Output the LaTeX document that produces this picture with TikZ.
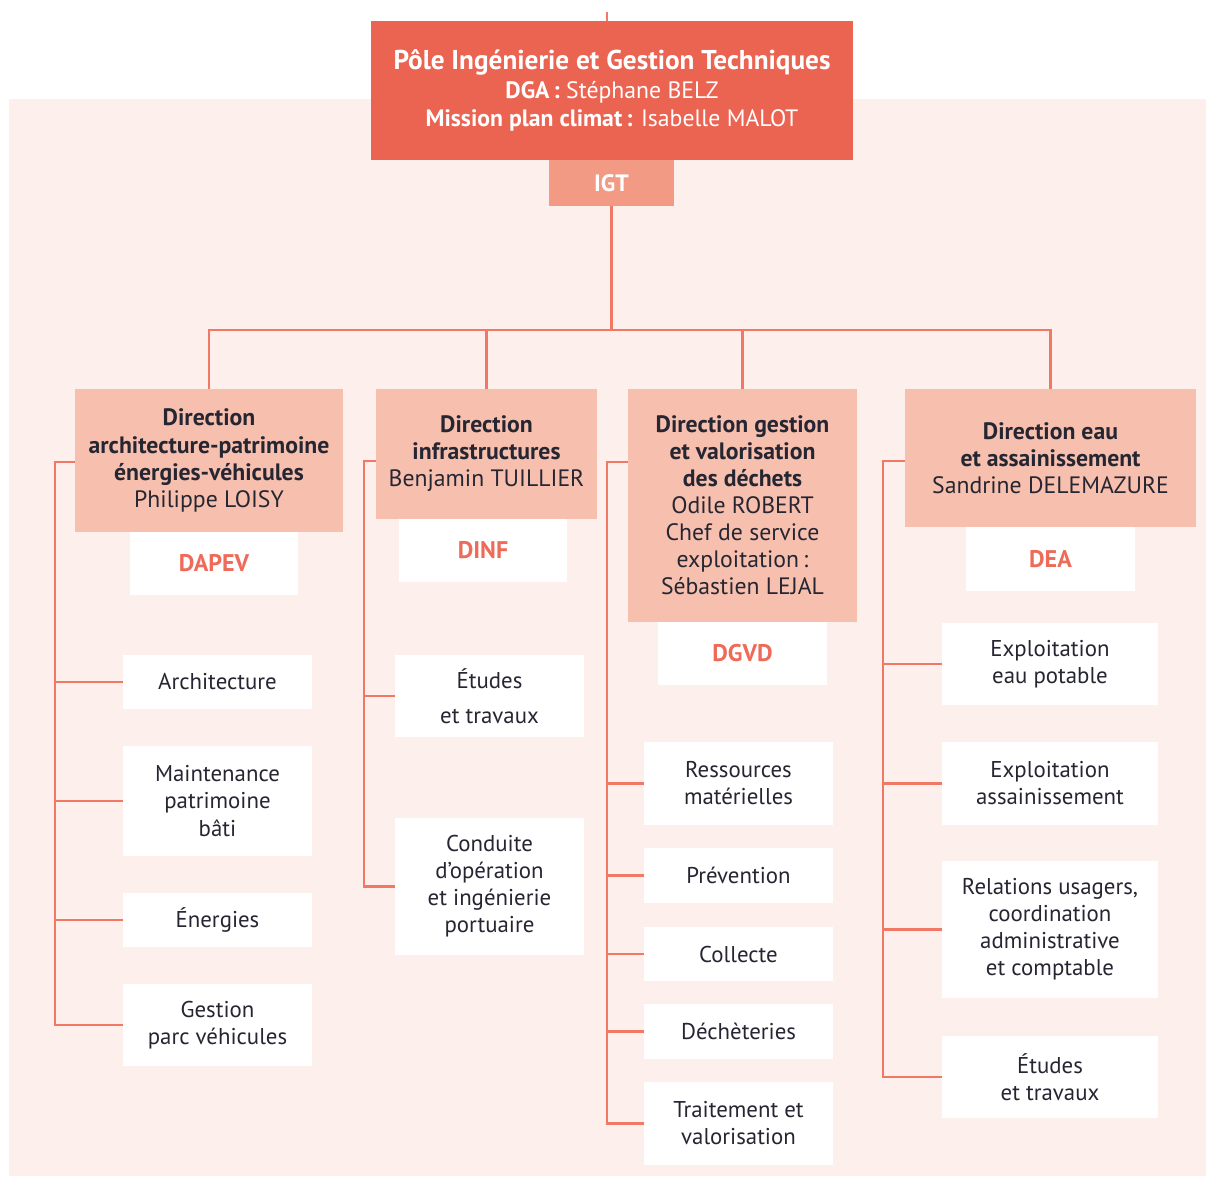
\documentclass[tikz,border=0pt]{standalone}
\usepackage{fontspec}
\setmainfont{PT Sans}
\usetikzlibrary{positioning}
\definecolor{coral}{HTML}{EB6452}
\definecolor{igtpink}{HTML}{F29A84}
\definecolor{dirpink}{HTML}{F7BFAE}
\definecolor{panel}{HTML}{FDF0EC}
\definecolor{linkred}{HTML}{F07864}
\definecolor{codered}{HTML}{EE6B5A}
\definecolor{ink}{HTML}{262633}
\tikzset{
  boxsize/.style 2 args={minimum width=#1*0.02cm, minimum height=#2*0.02cm},
  topbox/.style={fill=coral, text=white, align=center, inner sep=0pt, font=\fontsize{13.5}{15.8}\selectfont},
  igtbox/.style={fill=igtpink, text=white, inner sep=0pt, font=\fontsize{13.5}{15}\selectfont\bfseries},
  dirbox/.style={fill=dirpink, text=ink, align=center, inner sep=0pt, font=\fontsize{13.5}{15.4}\selectfont},
  codebox/.style={fill=white, text=codered, inner sep=0pt, font=\fontsize{13.7}{15}\selectfont\bfseries},
  unitbox/.style={fill=white, text=ink, align=center, inner sep=0pt, font=\fontsize{13}{15.4}\selectfont},
  link/.style={draw=linkred, line width=1.3pt}
}
\begin{document}
\begin{tikzpicture}[x=0.02cm, y=-0.02cm]
\useasboundingbox (0,0) rectangle (1206,1176);
\fill[panel] (9,99) rectangle (1206,1176);

% Pole
\node[topbox, boxsize={482}{139}] (top) at (612,90.5) {{\bfseries\fontsize{15.5}{16}\selectfont Pôle Ingénierie et Gestion Techniques}\\[1pt]
  {\bfseries DGA\,:} Stéphane BELZ\\
  {\bfseries Mission plan climat\,:} Isabelle MALOT};
\node[igtbox, boxsize={125}{46}] (igt) at (611.5,183) {IGT};

% Directions
\node[dirbox, boxsize={268}{143}] (d1) at (209,460.5) {\textbf{Direction}\\\textbf{architecture-patrimoine}\\\textbf{énergies-véhicules}\\Philippe LOISY};
\node[codebox, boxsize={168}{63}] (c1) at (214,563.5) {DAPEV};
\node[dirbox, boxsize={221}{130}] (d2) at (486.5,454) {\textbf{Direction}\\\textbf{infrastructures}\\Benjamin TUILLIER};
\node[codebox, boxsize={168}{63}] (c2) at (483,550.5) {DINF};
\node[dirbox, boxsize={229}{233}] (d3) at (742.5,505.5) {\textbf{Direction gestion}\\\textbf{et valorisation}\\\textbf{des déchets}\\Odile ROBERT\\Chef de service\\exploitation\,:\\Sébastien LEJAL};
\node[codebox, boxsize={169}{63}] (c3) at (742.5,653.5) {DGVD};
\node[dirbox, boxsize={291}{138}] (d4) at (1050.5,458) {\textbf{Direction eau}\\\textbf{et assainissement}\\Sandrine DELEMAZURE};
\node[codebox, boxsize={169}{64}] (c4) at (1050.5,559) {DEA};

% Services DAPEV
\node[unitbox, boxsize={189}{54}] (a1) at (217.5,682) {Architecture};
\node[unitbox, boxsize={189}{110}] (a2) at (217.5,801) {Maintenance\\patrimoine\\bâti};
\node[unitbox, boxsize={189}{54}] (a3) at (217.5,920) {Énergies};
\node[unitbox, boxsize={189}{82}] (a4) at (217.5,1025) {Gestion\\parc véhicules};

% Services DINF
\node[unitbox, boxsize={189}{82}] (b1) at (489.5,696) {Études\\[0.35em]et travaux};
\node[unitbox, boxsize={189}{137}] (b2) at (489.5,886.5) {Conduite\\d’opération\\et ingénierie\\portuaire};

% Services DGVD
\node[unitbox, boxsize={189}{83}] (e1) at (738.5,783.5) {Ressources\\matérielles};
\node[unitbox, boxsize={189}{55}] (e2) at (738.5,875.5) {Prévention};
\node[unitbox, boxsize={189}{54}] (e3) at (738.5,954) {Collecte};
\node[unitbox, boxsize={189}{55}] (e4) at (738.5,1031.5) {Déchèteries};
\node[unitbox, boxsize={189}{83}] (e5) at (738.5,1123.5) {Traitement et\\valorisation};

% Services DEA
\node[unitbox, boxsize={216}{82}] (f1) at (1050,664) {Exploitation\\eau potable};
\node[unitbox, boxsize={216}{83}] (f2) at (1050,783.5) {Exploitation\\assainissement};
\node[unitbox, boxsize={216}{137}] (f3) at (1050,929.5) {Relations usagers,\\coordination\\administrative\\et comptable};
\node[unitbox, boxsize={216}{82}] (f4) at (1050,1077) {Études\\et travaux};

% Links
\coordinate (topin) at (607,12);
\coordinate (bus) at (611.5,330);
\draw[link] (topin) -- (topin |- top.north);
\draw[link] (igt.south) -- (bus);
\draw[link] (d1.north) |- (bus) -| (d4.north);
\draw[link] (d2.north) -- (d2.north |- bus);
\draw[link] (d3.north) -- (d3.north |- bus);

\coordinate (s1) at (55,462);
\coordinate (s2) at (364,461);
\coordinate (s3) at (607,462);
\coordinate (s4) at (883,461);
\draw[link] (d1.west |- s1) -- (s1) |- (a4.west);
\foreach \n in {a1,a2,a3} \draw[link] (s1 |- \n.west) -- (\n.west);
\draw[link] (d2.west |- s2) -- (s2) |- (b2.west);
\draw[link] (s2 |- b1.west) -- (b1.west);
\draw[link] (d3.west |- s3) -- (s3) |- (e5.west);
\foreach \n in {e1,e2,e3,e4} \draw[link] (s3 |- \n.west) -- (\n.west);
\draw[link] (d4.west |- s4) -- (s4) |- (f4.west);
\foreach \n in {f1,f2,f3} \draw[link] (s4 |- \n.west) -- (\n.west);
\end{tikzpicture}
\end{document}
